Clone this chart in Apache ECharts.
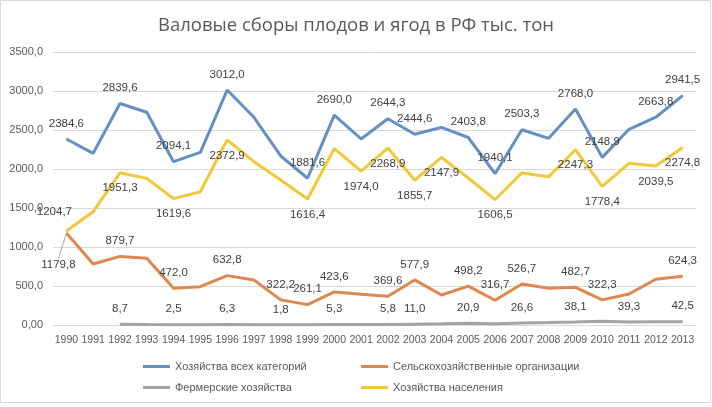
<!DOCTYPE html>
<html>
<head>
<meta charset="utf-8">
<script src="https://cdn.jsdelivr.net/npm/echarts@6/dist/echarts.min.js"></script>
<style>
html,body{margin:0;padding:0;background:#fff;}
#c{width:712px;height:407px;}
</style>
</head>
<body>
<div id="c"></div>
<script>
const years = ['1990','1991','1992','1993','1994','1995','1996','1997','1998','1999','2000','2001','2002','2003','2004','2005','2006','2007','2008','2009','2010','2011','2012','2013'];
const allCategories = [2384.6,2201,2839.6,2727,2094.1,2214,3012.0,2663,2167,1881.6,2690.0,2385,2644.3,2444.6,2534,2403.8,1940.1,2503.3,2393,2768.0,2148.9,2509,2663.8,2941.5];
const agriOrgs = [1179.8,782,879.7,855,472.0,491,632.8,577,322.2,261.1,423.6,393,369.6,577.9,385,498.2,316.7,526.7,470,482.7,322.3,397,586,624.3];
const farmers = [null,null,8.7,5,2.5,4,6.3,3,1.8,4,5.3,5.5,5.8,11.0,15,20.9,17,26.6,31,38.1,48,39.3,41,42.5];
const households = [1204.7,1453,1951.3,1880,1619.6,1709,2372.9,2094,1860,1616.4,2262,1974.0,2268.9,1855.7,2147.9,1885,1606.5,1950,1901,2247.3,1778.4,2073,2039.5,2274.8];

const allLabelIdx = [0,2,4,6,9,10,12,13,15,16,17,19,20,22,23];
const agriLabelIdx = [0,2,4,6,8,9,10,12,13,15,16,17,19,20,23];
const farmLabelIdx = [2,4,6,8,10,12,13,15,17,19,21,23];
const houseLabelIdx = [0,2,4,6,9,11,12,13,14,16,19,20,22,23];

const yTicks = [0,500,1000,1500,2000,2500,3000,3500];

const names = ['Хозяйства всех категорий','Сельскохозяйственные организации','Фермерские хозяйства','Хозяйства населения'];
const colors = ['#6391c4','#e0874f','#a3a3a3','#f2c73a'];

const FONT = "'Liberation Sans',sans-serif";
const fmt = v => v.toFixed(1).replace('.', ',');

function build(values, labelIdx, pos, firstPos, firstLine) {
  return values.map((v, i) => {
    const item = {
      value: v,
      label: { show: labelIdx.indexOf(i) >= 0, position: (i === 0 && firstPos) ? firstPos : pos }
    };
    if (i === 0 && firstLine) item.labelLine = { show: true, lineStyle: { color: '#a6a6a6', width: 1 } };
    return item;
  });
}

const labelBase = { color: '#404040', fontSize: 11.5, fontFamily: FONT, distance: 9, formatter: p => p.value == null ? '' : fmt(p.value) };

function mkSeries(idx, values, labelIdx, pos, firstPos, firstShift, firstLine) {
  const s = {
    name: names[idx], type: 'line', data: build(values, labelIdx, pos, firstPos, firstLine),
    symbol: 'circle', symbolSize: 1, showSymbol: true,
    lineStyle: { color: colors[idx], width: 3 }, itemStyle: { color: colors[idx] },
    label: Object.assign({}, labelBase), emphasis: { disabled: true },
    connectNulls: false, z: 2 + idx
  };
  if (firstShift) {
    s.labelLayout = p => p.dataIndex === 0 ? { dx: firstShift[0], dy: firstShift[1] } : {};
  }
  return s;
}

const legendText = { fontFamily: FONT, fontSize: 11, color: '#595959' };

const chart = echarts.init(document.getElementById('c'));
chart.setOption({
  animation: false,
  title: { text: 'Валовые сборы плодов и ягод в РФ тыс. тон', left: 'center', top: 11,
    textStyle: { fontFamily: "'Open Sans',sans-serif", fontSize: 18.5, fontWeight: 'normal', color: '#595959' } },
  graphic: [
    { type: 'rect', shape: { x: 0.5, y: 0.5, width: 710, height: 402 }, style: { fill: 'none', stroke: '#d9d9d9', lineWidth: 1 }, silent: true }
  ],
  legend: [
    { data: [names[0], names[2]], orient: 'vertical', left: 138, top: 356, itemWidth: 27, itemHeight: 3, itemGap: 10, icon: 'rect', textStyle: legendText },
    { data: [names[1], names[3]], orient: 'vertical', left: 356, top: 356, itemWidth: 27, itemHeight: 3, itemGap: 10, icon: 'rect', textStyle: legendText }
  ],
  grid: { left: 53, right: 16, top: 52, bottom: 82 },
  xAxis: { type: 'category', data: years, boundaryGap: true,
    axisLine: { show: false }, axisTick: { show: false },
    axisLabel: { fontFamily: FONT, fontSize: 10.5, color: '#595959', margin: 10, interval: 0 } },
  yAxis: { type: 'value', min: 0, max: 3500, interval: 500,
    axisLine: { show: false }, axisTick: { show: false },
    splitLine: { lineStyle: { color: '#d9d9d9', width: 1 } },
    axisLabel: { fontFamily: FONT, fontSize: 11, color: '#595959', margin: 10,
      formatter: v => yTicks.indexOf(v) === 0 ? '0,00' : fmt(v) } },
  series: [
    mkSeries(0, allCategories, allLabelIdx, 'top'),
    mkSeries(1, agriOrgs, agriLabelIdx, 'top', 'bottom', [-8, 16], true),
    mkSeries(2, farmers, farmLabelIdx, 'top'),
    mkSeries(3, households, houseLabelIdx, 'bottom', 'top', [-12, -4])
  ]
});
</script>
</body>
</html>
